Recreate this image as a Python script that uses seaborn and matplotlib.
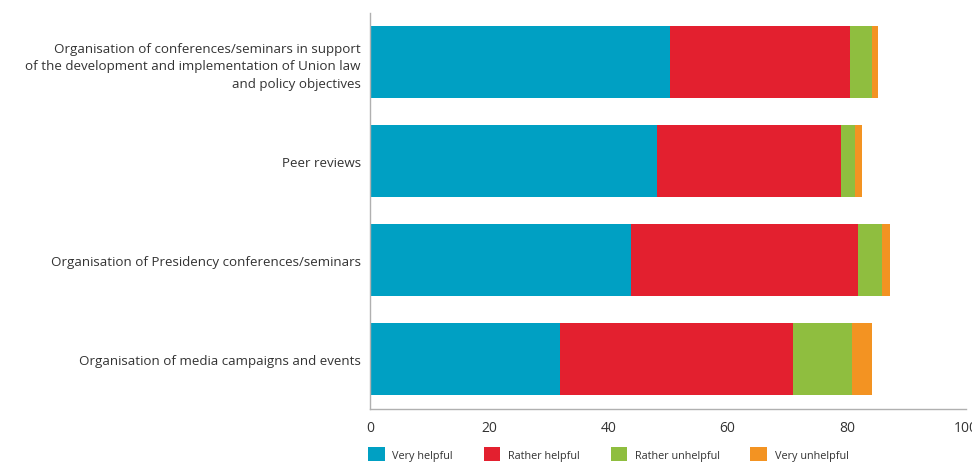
import matplotlib
matplotlib.use("Agg")
import matplotlib.pyplot as plt
from matplotlib.patches import Patch
import numpy as np
import pandas as pd
import seaborn as sns

categories = [
    "Organisation of conferences/seminars in support\nof the development and implementation of Union law\nand policy objectives",
    "Peer reviews",
    "Organisation of Presidency conferences/seminars",
    "Organisation of media campaigns and events",
]
series_names = ["Very helpful", "Rather helpful", "Rather unhelpful", "Very unhelpful"]
very_helpful = [50.4, 48.2, 43.8, 31.9]
rather_helpful = [30.2, 30.9, 38.0, 39.0]
rather_unhelpful = [3.6, 2.3, 4.1, 10.0]
very_unhelpful = [1.1, 1.2, 1.3, 3.4]
x_ticks = [0, 20, 40, 60, 80, 100]
colors = ["#00A0C3", "#E3202F", "#8FBE3F", "#F39322"]

sns.set_theme(style="white")
plt.rcParams["font.family"] = ["Open Sans", "DejaVu Sans"]
text_color = "#333333"
axis_color = "#B0B0B0"

series = [very_helpful, rather_helpful, rather_unhelpful, very_unhelpful]
cumulative = np.cumsum(np.array(series), axis=0)

fig = plt.figure(figsize=(9.72, 4.64), dpi=100)
ax = fig.add_axes([370 / 972, 1 - 409.5 / 464, (966 - 370) / 972, (409.5 - 13.5) / 464])

# stacked bars: draw cumulative totals from the outermost segment inwards
for i in range(len(series) - 1, -1, -1):
    df = pd.DataFrame({"category": categories, "value": cumulative[i]})
    sns.barplot(data=df, x="value", y="category", orient="h", color=colors[i],
                saturation=1, width=0.727, ax=ax, edgecolor="none", linewidth=0)

ax.set_xlim(0, 100)
ax.set_ylim(3.5, -0.5)
ax.set_xlabel("")
ax.set_ylabel("")
ax.set_xticks(x_ticks)
ax.set_xticklabels([str(t) for t in x_ticks])
ax.tick_params(axis="x", direction="in", length=6.7, width=1, color=axis_color,
               labelsize=10, labelcolor=text_color, pad=8)
ax.tick_params(axis="y", length=0, labelsize=9.65, labelcolor=text_color, pad=6.5)
for lab in ax.get_yticklabels():
    lab.set_multialignment("right")
    lab.set_linespacing(1.45)

for side in ["top", "right"]:
    ax.spines[side].set_visible(False)
for side in ["left", "bottom"]:
    ax.spines[side].set_color(axis_color)
    ax.spines[side].set_linewidth(1)

handles = [Patch(facecolor=c, edgecolor="none", label=n) for c, n in zip(colors, series_names)]
fig.legend(handles=handles, loc="center left", bbox_to_anchor=(364 / 972, 1 - 455 / 464),
           ncol=4, frameon=False, fontsize=7.8, labelcolor=text_color,
           handlelength=1.5, handleheight=1.5, handletextpad=0.72, columnspacing=2.85,
           borderaxespad=0)

fig.savefig("out.png", dpi=100)
